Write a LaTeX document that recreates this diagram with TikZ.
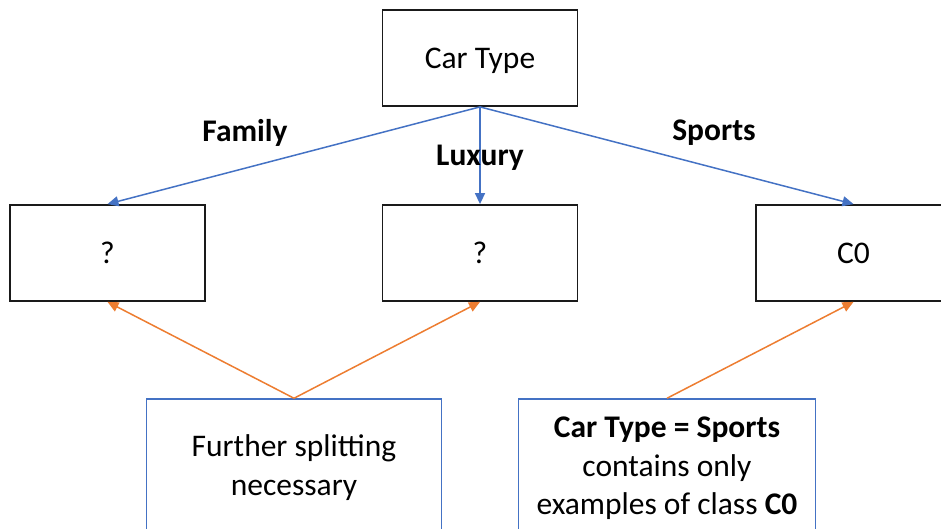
\documentclass[tikz,border=0pt]{standalone}
\usepackage{fontspec}
\setmainfont{Carlito}
\usetikzlibrary{arrows.meta}
\definecolor{linkblue}{HTML}{4472C4}
\definecolor{noteorange}{HTML}{ED7D31}
\definecolor{boxedge}{HTML}{1A1A1A}
\tikzset{
  treebox/.style={draw=boxedge, line width=1.8pt, fill=white, inner sep=0pt,
    minimum width=195pt, minimum height=96pt, text depth=0pt,
    font=\fontsize{31.5}{38.5}\selectfont},
  notebox/.style={draw=linkblue, line width=1.5pt, fill=white, inner sep=0pt,
    align=center, font=\fontsize{31.5}{38.5}\selectfont},
  branch/.style={draw=linkblue, line width=1.5pt, -{Triangle[length=11pt,width=10pt]}},
  pointer/.style={draw=noteorange, line width=1.5pt, -{Triangle[length=11pt,width=10pt]}},
  branchlabel/.style={font=\fontsize{31.5}{38.5}\selectfont\bfseries}
}
\begin{document}
\begin{tikzpicture}[x=1pt, y=-1pt]
  \useasboundingbox (0,0) rectangle (941,529);
  \clip (0,0) rectangle (941,529);

  % decision tree nodes
  \node[treebox] (root) at (480,58) {Car Type};
  \node[treebox] (family) at (107.5,253) {?};
  \node[treebox] (luxury) at (480,253) {?};
  \node[treebox] (sports) at (853.5,253) {C0};

  % explanatory notes (lower edges run off the page)
  \node[notebox, minimum width=295pt, minimum height=137pt] (split) at (294,467.5)
    {Further splitting\\necessary};
  \node[notebox, minimum width=297pt, minimum height=139pt] (pure) at (667,468.5)
    {\textbf{Car Type = Sports}\\contains only\\examples of class \textbf{C0}};

  % branches
  \draw[branch] (root.south) -- (family.north);
  \draw[branch] (root.south) -- (luxury.north);
  \draw[branch] (root.south) -- (sports.north);

  % branch labels
  \node[branchlabel] (lfamily) at (245,132.5) {Family};
  \node[branchlabel] (lluxury) at (480,157.5) {Luxury};
  \node[branchlabel] (lsports) at (714,132.5) {Sports};

  % note pointers
  \draw[pointer] (split.north) -- (family.south);
  \draw[pointer] (split.north) -- (luxury.south);
  \draw[pointer] (pure.north) -- (sports.south);
\end{tikzpicture}
\end{document}
